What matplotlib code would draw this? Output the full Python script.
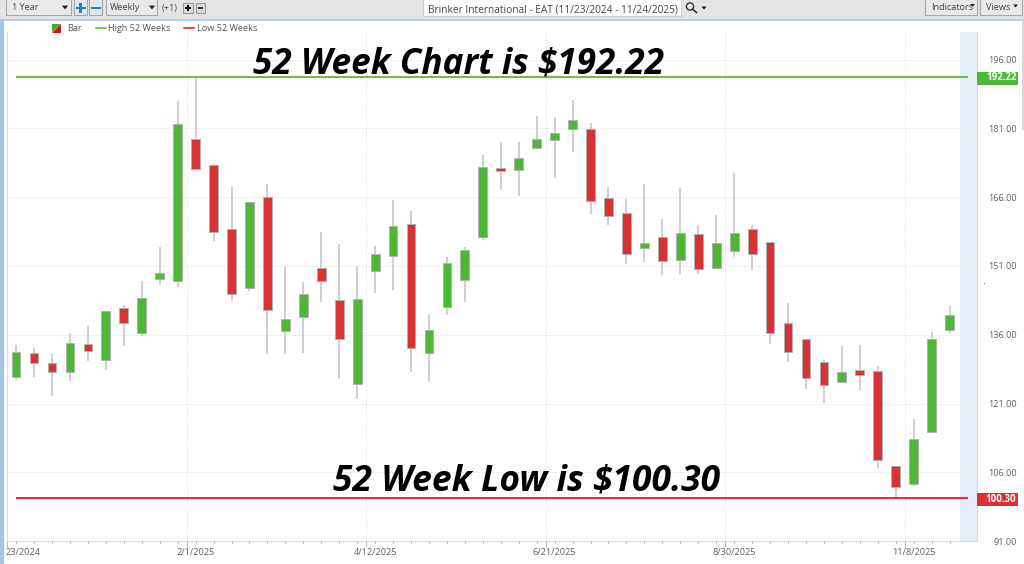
import matplotlib
matplotlib.use("Agg")
import matplotlib.pyplot as plt
from matplotlib.patches import Rectangle, Polygon, Circle

# ---- data ----
highs = [133.75,133.02,131.71,136.29,137.89,141.23,142.54,147.70,155.11,187.01,192.22,173.13,168.41,165.00,168.85,
         150.82,147.55,158.38,155.69,150.97,155.40,165.36,162.96,140.51,152.86,155.19,175.17,177.93,177.93,183.74,183.38,
         187.16,182.22,168.27,165.58,168.85,161.29,167.90,159.91,162.16,171.17,159.91,156.13,142.98,134.98,130.48,133.53,
         133.68,129.17,107.44,117.62,136.51,142.25]
lows = [126.12,126.84,122.70,125.90,130.33,128.37,133.53,135.78,146.76,146.46,172.04,156.49,143.41,145.59,131.71,
        131.71,132.08,143.19,126.34,122.05,145.01,145.74,127.93,125.68,140.29,143.19,156.64,167.54,166.30,176.70,170.23,
        175.90,162.38,159.91,151.33,151.92,149.08,149.30,149.23,150.24,152.93,150.17,133.97,129.97,124.23,121.18,125.61,
        123.94,106.93,100.30,102.94,114.71,136.44]
opens = [126.77,132.00,129.75,127.93,134.04,130.48,141.74,136.29,148.06,147.63,178.73,173.06,159.11,146.10,166.09,
         136.80,139.92,150.46,143.49,125.17,149.81,153.08,160.05,131.93,142.10,147.85,157.37,172.41,171.83,176.70,178.51,
         180.84,180.84,165.87,162.52,154.89,157.22,152.35,157.95,150.46,154.24,158.96,156.13,138.62,134.98,130.04,125.61,
         128.37,128.15,107.44,103.37,114.71,137.02]
closes = [132.29,129.90,127.86,134.26,132.44,141.23,138.47,144.07,149.52,182.00,172.04,158.38,144.94,164.85,141.38,
          139.34,144.79,147.63,135.06,143.78,153.51,159.69,133.02,137.09,151.62,154.53,172.55,171.68,174.52,178.58,180.04,
          182.73,165.14,161.80,153.51,155.91,151.99,158.09,150.39,155.91,158.24,153.66,136.29,132.15,126.63,124.96,127.94,
          127.28,108.75,102.72,113.18,134.98,140.36]
y_ticks = [91,106,121,136,151,166,181,196]
date_positions = [10,20,30,40,50]
date_labels = ["2/1/2025","4/12/2025","6/21/2025","8/30/2025","11/8/2025"]
first_date_label = "23/2024"
grid_positions = [-0.49,9.5,19.5,29.5,39.5,49.5]
high_52 = 192.22
low_52 = 100.30
x_band = [52.57, 53.55]
title_high = "52 Week Chart is $192.22"
title_low = "52 Week Low is $100.30"
chart_title = "Brinker International - EAT (11/23/2024 - 11/24/2025)"

GREEN, RED = "#4db833", "#d93235"
LINE_G, LINE_R = "#4cbb2c", "#e3141d"
GREY_T = "#5f5f5f"
UI = ["Open Sans", "DejaVu Sans"]
W, H = 1024, 564

fig = plt.figure(figsize=(W/100, H/100), dpi=100, facecolor="white")

# main price axes
L, R, T, B = 7.3, 977.4, 32.0, 541.1
ax = fig.add_axes([L/W, 1-B/H, (R-L)/W, (B-T)/H])
ax.set_xlim(-0.49, 53.55)
ax.set_ylim(91, 202)
ax.set_facecolor("white")
ax.axvspan(x_band[0], x_band[1], color="#e6edf6", lw=0, zorder=0)

n = len(opens)
xs = list(range(n))
ax.vlines(xs, lows, highs, color="#c2c2c2", lw=1.1, zorder=2)
bottoms = [min(o, c) for o, c in zip(opens, closes)]
heights = [abs(c-o) for o, c in zip(opens, closes)]
cols = [GREEN if c >= o else RED for o, c in zip(opens, closes)]
ax.bar(xs, heights, bottom=bottoms, width=0.49, color=cols, edgecolor="#b0b0b0", linewidth=0.7, zorder=3)

ax.hlines(high_52, 0, 53, color=LINE_G, lw=1.25, zorder=4)
ax.hlines(low_52, 0, 53, color=LINE_R, lw=1.25, zorder=4)

# axes furniture
ax.spines["top"].set_visible(False)
ax.spines["left"].set_color("#dcdcdc")
ax.spines["bottom"].set_color("#c6dff1")
ax.spines["right"].set_color("#c6dff1")
for s in ax.spines.values():
    s.set_linewidth(0.8)
ax.yaxis.tick_right()
ax.set_yticks(y_ticks)
ax.set_yticklabels([f"{v:.2f}" for v in y_ticks], fontsize=6.6, color=GREY_T, family=UI, ha="right")
ax.tick_params(axis="y", length=0, pad=28.4)
ax.grid(axis="y", color="#e9e9e9", lw=0.7, ls=(0, (1.5, 1)), zorder=1)
ax.set_xticks(xs)
ax.set_xticklabels([date_labels[date_positions.index(i)] if i in date_positions else "" for i in xs],
                   fontsize=6.6, color=GREY_T, family=UI)
ax.set_xticks(grid_positions, minor=True)
ax.tick_params(axis="x", which="major", length=1.5, width=0.6, color="#888888", pad=3.4)
ax.tick_params(axis="x", which="minor", length=4.5, width=0.6, color="#aaaaaa")
ax.grid(axis="x", which="minor", color="#e6e6e6", lw=0.7, ls=(0, (2, 1.5)), zorder=1)
ax.set_axisbelow(True)
ax.annotate(first_date_label, xy=(0, 0), xycoords=("data", "axes fraction"), xytext=(-7.9, -8.2),
            textcoords="offset points", ha="left", va="center", fontsize=6.6, color=GREY_T,
            family=UI, annotation_clip=False)

# overlay in pixel coordinates for the big captions and application chrome
ui = fig.add_axes([0, 0, 1, 1], facecolor="none")
ui.set_xlim(0, W); ui.set_ylim(H, 0); ui.axis("off")

ui.text(458.5, 73.5, title_high, fontsize=25.3, fontweight="bold", style="italic", family=UI, color="black", ha="center", va="baseline")
ui.text(526.5, 490.5, title_low, fontsize=25.5, fontweight="bold", style="italic", family=UI, color="black", ha="center", va="baseline")

def rect(x0, y0, x1, y1, fc, ec="none", lw=0.8, z=5):
    ui.add_patch(Rectangle((x0, y0), x1-x0, y1-y0, facecolor=fc, edgecolor=ec, linewidth=lw, zorder=z))

def tri(cx, cy, s=3.2, c="#222222"):
    ui.add_patch(Polygon([(cx-s, cy-s*0.6), (cx+s, cy-s*0.6), (cx, cy+s*0.6)], closed=True, fc=c, ec="none", zorder=7))

def lbl(x, y, s, size=6.6, c=GREY_T, ha="left", **kw):
    ui.text(x, y, s, fontsize=size, color=c, ha=ha, va="center", family=UI, zorder=8, **kw)

# value pills
rect(977.4, 71.7, 1018, 84.7, GREEN)
rect(977.4, 493.3, 1018, 506.2, RED)
lbl(1016.4, 78, f"{high_52:.2f}", size=7.0, c="white", ha="right", fontweight="bold")
lbl(1016.4, 499.6, f"{low_52:.2f}", size=7.0, c="white", ha="right", fontweight="bold")

# toolbar
rect(0, 0, W, 19, "#e4e4e4", z=4)
rect(0, 19, W, 21, "#b4d2ec", z=4)
rect(0, 19, 4, H, "#a3c6e4", z=4)
rect(1022, 21, 1024, 130, "#d8d8d8", z=4)
rect(6, -2, 71, 15, "#e9e9e9", "#a8a8a8")
lbl(12, 8, "1 Year", c="#444444")
tri(65, 7.5)
rect(74, -2, 87, 15, "#dfe7ee", "#a8a8a8")
rect(89, -2, 102, 15, "#dfe7ee", "#a8a8a8")
rect(75.5, 6.6, 85.5, 9, "#2a7fc4", z=7); rect(79.3, 3, 81.7, 12.6, "#2a7fc4", z=7)
rect(91, 6.6, 100.5, 9, "#2a7fc4", z=7)
rect(106, -2, 157, 15, "#e9e9e9", "#a8a8a8")
lbl(110, 8, "Weekly", c="#444444")
tri(152, 7.5)
lbl(162, 8, "(+1)", c="#555555")
rect(183, 3, 193, 13, "#dddddd", "#999999")
rect(196, 3, 205, 13, "#dddddd", "#999999")
rect(185, 7.3, 191, 8.8, "#111111", z=7); rect(187.3, 5, 188.7, 11, "#111111", z=7)
rect(198, 7.3, 203, 8.8, "#333333", z=7)
rect(423, -2, 681, 16, "white", "#cfcfcf")
lbl(428, 10, chart_title, size=7.25, c="#444444")
ui.add_patch(Circle((690, 6.5), 3.6, fc="none", ec="#333333", lw=1, zorder=7))
ui.plot([692.6, 696.5], [9.2, 12.5], color="#333333", lw=1.2, zorder=7)
tri(704, 8, s=2.6)
rect(925, -2, 977, 15, "#e9e9e9", "#a8a8a8")
lbl(931.5, 7.5, "Indicators", c="#444444")
tri(972.5, 5.5, s=2.4, c="#111111")
rect(980, -2, 1022, 15, "#e9e9e9", "#a8a8a8")
lbl(986, 7.5, "Views", c="#444444")
tri(1015.5, 6, s=2.4, c="#111111")

# legend
ui.add_patch(Polygon([(52, 24), (61, 24), (52, 32.5)], closed=True, fc="#3fae2a", ec="none", zorder=7))
ui.add_patch(Polygon([(61, 24), (61, 32.5), (52, 32.5)], closed=True, fc="#d0141a", ec="none", zorder=7))
lbl(67, 28.5, "Bar", c="#555555")
ui.plot([96, 105.5], [27.6, 27.6], color=LINE_G, lw=1.1, zorder=7)
lbl(108.5, 28.5, "High 52 Weeks", c="#555555")
ui.plot([184, 194], [27.6, 27.6], color=LINE_R, lw=1.1, zorder=7)
lbl(197, 28.5, "Low 52 Weeks", c="#555555")
rect(984.3, 282.6, 985.4, 283.8, "#777777")

fig.savefig("out.png", dpi=100)
